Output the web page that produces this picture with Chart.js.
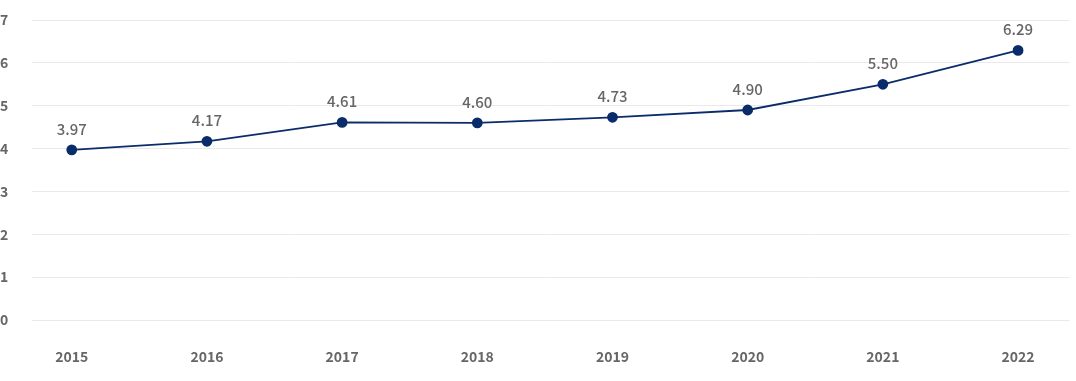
<!DOCTYPE html>
<html>
<head>
<meta charset="utf-8">
<script src="https://cdn.jsdelivr.net/npm/chart.js@4/dist/chart.umd.min.js"></script>
<style>
html,body{margin:0;padding:0;background:#fff;}
#wrap{width:1076px;height:381px;position:relative;}
</style>
</head>
<body>
<div id="wrap"><canvas id="c"></canvas></div>
<script>
const years = ['2015','2016','2017','2018','2019','2020','2021','2022'];
const values = [3.97, 4.17, 4.61, 4.60, 4.73, 4.90, 5.50, 6.29];
const yTicks = [0,1,2,3,4,5,6,7];

const points = values.map((v, i) => ({x: i, y: v}));
const FONT = '"Noto Sans CJK KR", "Noto Sans", sans-serif';

const valueLabels = {
  id: 'valueLabels',
  afterDatasetsDraw(chart) {
    const ctx = chart.ctx;
    const meta = chart.getDatasetMeta(0);
    ctx.save();
    ctx.font = '500 15px ' + FONT;
    ctx.fillStyle = '#666666';
    ctx.textAlign = 'center';
    ctx.textBaseline = 'middle';
    meta.data.forEach((pt, i) => {
      ctx.fillText(values[i].toFixed(2), pt.x, pt.y - 21);
    });
    ctx.restore();
  }
};

new Chart(document.getElementById('c'), {
  type: 'line',
  data: {
    datasets: [{
      data: points,
      borderColor: '#0b2c6b',
      backgroundColor: '#0b2c6b',
      borderWidth: 1.8,
      pointRadius: 4.5,
      pointHoverRadius: 4.5,
      tension: 0
    }]
  },
  options: {
    responsive: true,
    maintainAspectRatio: false,
    animation: false,
    layout: {padding: {top: 20, right: 0, left: 0, bottom: 0}},
    plugins: {legend: {display: false}, tooltip: {enabled: false}},
    scales: {
      x: {
        type: 'linear',
        min: -0.294,
        max: 7.382,
        grid: {display: false, drawTicks: false},
        border: {display: false},
        afterFit(s) { s.height = 61; },
        afterBuildTicks(s) { s.ticks = years.map((_, i) => ({value: i})); },
        ticks: {
          padding: 28,
          color: '#666666',
          font: {family: FONT, size: 14, weight: 'bold'},
          callback: (v) => years[v] ?? ''
        }
      },
      y: {
        min: 0,
        max: 7,
        grid: {color: '#e9e9e9', drawTicks: false, lineWidth: 1},
        border: {display: false},
        afterFit(s) { s.width = 32; },
        afterBuildTicks(s) { s.ticks = yTicks.map(v => ({value: v})); },
        ticks: {
          crossAlign: 'far',
          padding: 0,
          color: '#666666',
          font: {family: FONT, size: 14, weight: 'bold'}
        }
      }
    }
  },
  plugins: [valueLabels]
});
</script>
</body>
</html>
